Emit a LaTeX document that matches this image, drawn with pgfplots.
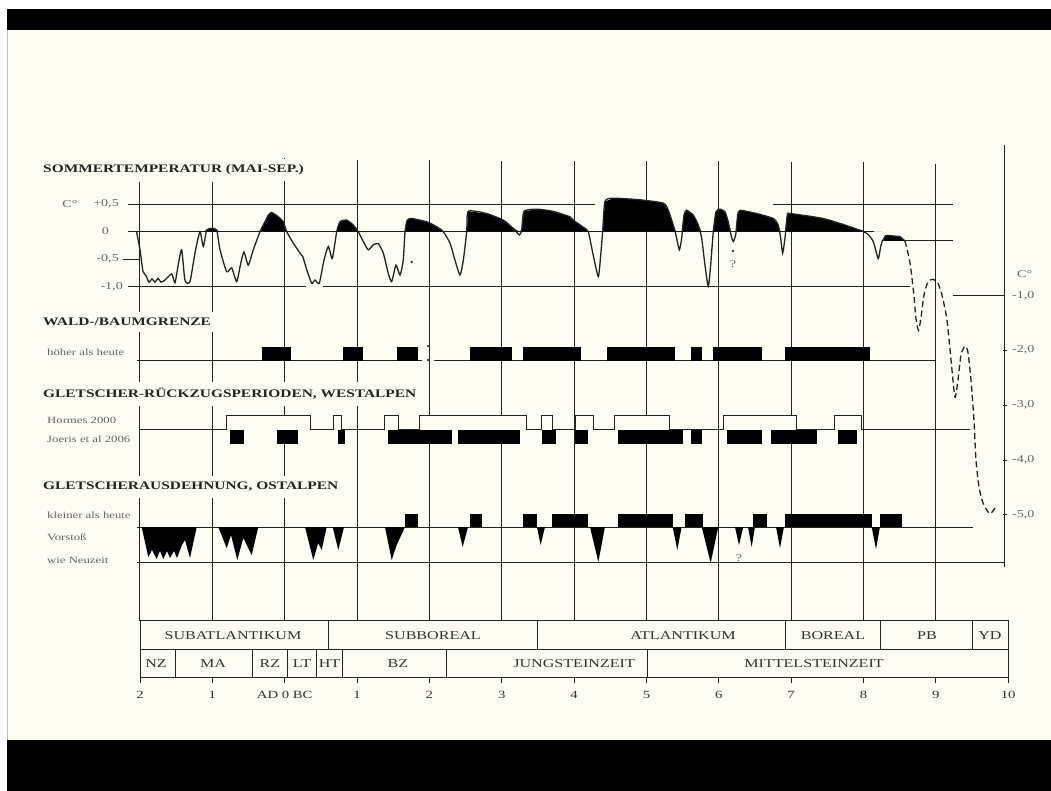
\documentclass[border=0pt]{standalone}
\usepackage{pgfplots}
\pgfplotsset{compat=1.18}
\usepackage{pgfplotstable}
\usepackage{graphicx}
\usepackage{fontspec}
\setmainfont{Liberation Serif}

\definecolor{paper}{RGB}{254,253,243}
\definecolor{ink}{RGB}{35,35,35}
\definecolor{lab}{RGB}{50,50,50}
\definecolor{side}{RGB}{100,100,100}
\newcommand{\sx}[1]{\scalebox{1.34}[1]{#1}}
\newcommand{\fs}[1]{\fontsize{#1}{#1}\selectfont}

% summer temperature, deviation from today (left scale), x in ka BC
\pgfplotstableread{
ka T
-2.048 0.00
-2.000 -0.33
-1.959 -0.72
-1.917 -0.80
-1.876 -0.92
-1.834 -0.86
-1.793 -0.92
-1.751 -0.85
-1.710 -0.92
-1.654 -0.88
-1.562 -0.77
-1.516 -0.93
-1.471 -0.60
-1.424 -0.33
-1.378 -0.89
-1.309 -0.91
-1.240 -0.39
-1.171 0.00
-1.125 -0.27
-1.078 0.03
-1.009 0.06
-0.940 0.03
-0.894 -0.33
-0.802 -0.73
-0.733 -0.66
-0.663 -0.91
-0.608 -0.58
-0.563 -0.37
-0.503 -0.61
-0.434 -0.33
-0.341 0.00
-0.296 0.12
-0.227 0.30
-0.180 0.35
-0.088 0.27
-0.019 0.18
0.028 0.00
0.119 -0.21
0.211 -0.39
0.249 -0.45
0.304 -0.69
0.373 -0.94
0.419 -0.88
0.478 -0.94
0.543 -0.52
0.603 -0.27
0.658 -0.49
0.719 0.00
0.764 0.18
0.857 0.21
0.948 0.12
1.017 0.00
1.086 -0.18
1.155 -0.33
1.225 -0.24
1.294 -0.22
1.363 -0.39
1.432 -0.76
1.479 -0.91
1.538 -0.61
1.594 -0.79
1.639 -0.52
1.663 0.00
1.694 0.21
1.755 0.24
1.963 0.18
2.101 0.09
2.192 0.00
2.285 -0.21
2.354 -0.52
2.423 -0.79
2.469 -0.52
2.516 0.00
2.538 0.37
2.792 0.33
3.021 0.21
3.160 0.06
3.243 -0.06
3.276 0.03
3.308 0.37
3.483 0.41
3.712 0.37
3.943 0.27
3.989 0.21
4.127 0.08
4.196 0.00
4.265 -0.43
4.335 -0.82
4.368 -0.43
4.395 0.00
4.427 0.55
4.542 0.61
4.911 0.58
5.233 0.52
5.302 0.39
5.371 0.12
5.408 -0.06
5.454 -0.33
5.487 -0.12
5.519 0.30
5.556 0.39
5.648 0.30
5.717 0.12
5.764 -0.12
5.809 -0.61
5.855 -1.00
5.888 -0.61
5.924 0.00
5.961 0.36
6.017 0.41
6.086 0.36
6.131 0.18
6.169 -0.06
6.200 -0.18
6.234 -0.06
6.261 0.30
6.293 0.39
6.524 0.33
6.753 0.24
6.822 0.12
6.856 -0.12
6.883 -0.39
6.915 -0.12
6.947 0.30
6.984 0.33
7.444 0.24
7.813 0.09
8.044 -0.03
8.135 -0.18
8.204 -0.49
8.238 -0.27
8.265 -0.15
}\templeft

% right scale
\pgfplotstableread{
ka T
8.265 0.00
8.300 0.09
8.321 0.10
8.504 0.08
8.573 0.00
}\tempfill

\pgfplotstableread{
ka T
8.573 0.00
8.642 -0.39
8.697 -0.99
8.725 -1.41
8.760 -1.63
8.794 -1.41
8.836 -0.99
8.891 -0.75
8.960 -0.70
9.029 -0.77
9.085 -0.99
9.154 -1.44
9.210 -2.17
9.264 -2.85
9.306 -2.54
9.348 -2.08
9.403 -1.92
9.444 -2.03
9.486 -2.54
9.527 -3.27
9.555 -4.00
9.597 -4.49
9.652 -4.78
9.748 -4.98
9.845 -4.82
}\lateglacial

\begin{document}
\begin{tikzpicture}
\path[use as bounding box] (0pt,0pt) rectangle (1051pt,791pt);
\fill[white] (0pt,0pt) rectangle (1051pt,791pt);
\fill[paper] (7pt,51pt) rectangle (1051pt,761pt);
\fill[black] (7pt,761pt) rectangle (1051pt,782pt);
\fill[black] (7pt,0pt) rectangle (1051pt,51pt);
\draw[black!25] (7pt,51pt) -- (7pt,761pt);

% panels: x in ka, y in rows from the top
\begin{axis}[at={(0pt,0pt)}, anchor=south west, scale only axis,
  width=1051pt, height=791pt, xmin=-3.935, xmax=10.592, ymin=0, ymax=791,
  y dir=reverse, hide axis, clip=false, unbounded coords=jump]
\addplot[ink, line width=1pt] coordinates {
(-2,182)(-2,621) (-2,nan) (-1,182)(-1,621) (-1,nan)
(0,158)(0,621) (0,nan) (1,160)(1,621) (1,nan) (2,160)(2,621) (2,nan)
(3,161)(3,621) (3,nan) (4,161)(4,621) (4,nan) (5,161)(5,621) (5,nan)
(6,161)(6,621) (6,nan) (7,162)(7,621) (7,nan) (8,162)(8,621) (8,nan)
(9,164)(9,621) (9,nan) (9.956,145)(9.956,567)};
% baselines
\addplot[ink, line width=1pt] coordinates {
(-2.04,361)(1.90,361) (0,nan) (2.06,361)(9.0,361) (0,nan)
(-2.0,430)(9.47,430) (0,nan)
(-2.04,527)(9.51,527) (0,nan)
(-2.04,562)(9.956,562)};
\addplot[only marks, mark=*, mark size=0.9pt, ink] coordinates {(1.98,346)(1.98,360)(1.755,262)(6.196,251)};
% Wald-/Baumgrenze hoeher als heute
\addplot[black, line width=14pt] coordinates {
(-0.318,354)(0.083,354) (0,nan) (0.802,354)(1.086,354) (0,nan)
(1.556,354)(1.847,354) (0,nan) (2.561,354)(3.137,354) (0,nan)
(3.290,354)(4.091,354) (0,nan) (4.451,354)(5.395,354) (0,nan)
(5.612,354)(5.764,354) (0,nan) (5.924,354)(6.593,354) (0,nan)
(6.915,354)(8.090,354)};
% Hormes 2000
\addplot[ink, line width=1pt, fill=paper] coordinates {(-0.802,430)(-0.802,416)(0.350,416)(0.350,430)};
\addplot[ink, line width=1pt, fill=paper] coordinates {(0.672,430)(0.672,416)(0.788,416)(0.788,430)};
\addplot[ink, line width=1pt, fill=paper] coordinates {(1.386,430)(1.386,416)(1.570,416)(1.570,430)};
\addplot[ink, line width=1pt, fill=paper] coordinates {(1.870,430)(1.870,416)(3.345,416)(3.345,430)};
\addplot[ink, line width=1pt, fill=paper] coordinates {(3.552,430)(3.552,416)(3.704,416)(3.704,430)};
\addplot[ink, line width=1pt, fill=paper] coordinates {(4.026,430)(4.026,416)(4.265,416)(4.265,430)};
\addplot[ink, line width=1pt, fill=paper] coordinates {(4.565,430)(4.565,416)(5.325,416)(5.325,430)};
\addplot[ink, line width=1pt, fill=paper] coordinates {(6.062,430)(6.062,416)(7.077,416)(7.077,430)};
\addplot[ink, line width=1pt, fill=paper] coordinates {(7.606,430)(7.606,416)(7.975,416)(7.975,430)};
% Joeris et al 2006
\addplot[black, line width=14pt] coordinates {
(-0.756,437)(-0.563,437) (0,nan) (-0.111,437)(0.188,437) (0,nan)
(0.741,437)(0.833,437) (0,nan) (1.432,437)(2.308,437) (0,nan)
(2.399,437)(3.252,437) (0,nan) (3.552,437)(3.750,437) (0,nan)
(4.012,437)(4.196,437) (0,nan) (4.611,437)(5.509,437) (0,nan)
(5.616,437)(5.764,437) (0,nan) (6.109,437)(6.593,437) (0,nan)
(6.717,437)(7.353,437) (0,nan) (7.652,437)(7.906,437)};
% Ostalpen: kleiner als heute
\addplot[black, line width=13pt] coordinates {
(1.663,520.5)(1.847,520.5) (0,nan) (2.561,520.5)(2.723,520.5) (0,nan)
(3.290,520.5)(3.483,520.5) (0,nan) (3.690,520.5)(4.196,520.5) (0,nan)
(4.611,520.5)(5.371,520.5) (0,nan) (5.533,520.5)(5.786,520.5) (0,nan)
(6.477,520.5)(6.662,520.5) (0,nan) (6.915,520.5)(8.113,520.5) (0,nan)
(8.228,520.5)(8.528,520.5)};
% Ostalpen: Vorstoss
\addplot[fill=black, draw=none] coordinates {(-1.977,527)(-1.885,557)(-1.834,550)(-1.769,559)(-1.724,551)(-1.678,559)(-1.627,551)(-1.585,558)(-1.530,551)(-1.489,558)(-1.419,545)(-1.378,540)(-1.309,558)(-1.216,527)};
\addplot[fill=black, draw=none] coordinates {(-0.918,527)(-0.802,548)(-0.742,535)(-0.655,560)(-0.572,538)(-0.456,555)(-0.365,527)};
\addplot[fill=black, draw=none] coordinates {(0.281,527)(0.395,560)(0.464,543)(0.511,550)(0.581,527)};
\addplot[fill=black, draw=none] coordinates {(0.663,527)(0.741,550)(0.820,527)};
\addplot[fill=black, draw=none] coordinates {(1.386,527)(1.479,560)(1.548,545)(1.663,527)};
\addplot[fill=black, draw=none] coordinates {(2.395,527)(2.460,547)(2.534,527)};
\addplot[fill=black, draw=none] coordinates {(3.487,527)(3.538,545)(3.598,527)};
\addplot[fill=black, draw=none] coordinates {(4.220,527)(4.335,562)(4.427,527)};
\addplot[fill=black, draw=none] coordinates {(5.363,527)(5.426,550)(5.487,527)};
\addplot[fill=black, draw=none] coordinates {(5.764,527)(5.888,563)(5.993,527)};
\addplot[fill=black, draw=none] coordinates {(6.224,527)(6.279,545)(6.339,527)};
\addplot[fill=black, draw=none] coordinates {(6.404,527)(6.455,547)(6.500,527)};
\addplot[fill=black, draw=none] coordinates {(6.791,527)(6.846,548)(6.901,527)};
\addplot[fill=black, draw=none] coordinates {(8.113,527)(8.173,549)(8.228,527)};
\end{axis}

% temperature, left scale
\begin{axis}[at={(0pt,0pt)}, anchor=south west, scale only axis,
  width=1051pt, height=791pt, xmin=-3.935, xmax=10.592, ymin=-10.188, ymax=4.220,
  hide axis, clip=false, unbounded coords=jump]
\addplot[ink, line width=1pt] coordinates {
(-2.166,0.5)(4.29,0.5) (0,nan) (6.75,0.5)(9.24,0.5) (0,nan)
(-2.166,0)(8.14,0) (0,nan)
(-2.166,-1)(0.30,-1) (0,nan) (0.53,-1)(8.65,-1) (0,nan)
(-2.235,-0.5)(-2.0,-0.5)};
\addplot[fill=black, draw=none] table[x=ka, y expr={max(\thisrow{T},0)}] {\templeft} \closedcycle;
\addplot[ink, line width=1.3pt, smooth, tension=0.35] table[x=ka, y=T] {\templeft};
\end{axis}

% temperature, right scale (Spaetglazial)
\begin{axis}[at={(0pt,0pt)}, anchor=south west, scale only axis,
  width=1051pt, height=791pt, xmin=-3.935, xmax=10.592, ymin=-10.038, ymax=4.396,
  hide axis, clip=false, unbounded coords=jump]
\addplot[ink, line width=1pt] coordinates {
(8.26,0)(9.237,0) (0,nan) (9.237,-1)(9.956,-1) (0,nan)
(9.93,-2)(9.99,-2) (0,nan) (9.93,-3)(9.99,-3) (0,nan)
(9.93,-4)(9.99,-4) (0,nan) (9.93,-5)(9.99,-5)};
\addplot[fill=black, draw=none] table[x=ka, y=T] {\tempfill} \closedcycle;
\addplot[ink, line width=1.3pt] table[x=ka, y=T] {\tempfill};
\addplot[ink, line width=1.3pt, smooth, tension=0.4, dash pattern=on 6pt off 3.5pt] table[x=ka, y=T] {\lateglacial};
\end{axis}

% time scale and periods
\begin{axis}[at={(140pt,113pt)}, anchor=south west, scale only axis,
  width=868.2pt, height=57pt, xmin=-2, xmax=10, ymin=0, ymax=57,
  clip=false, axis line style={ink, line width=1pt},
  xtick={-2,...,10},
  xticklabels={\sx{2},\sx{1},\sx{AD 0 BC},\sx{1},\sx{2},\sx{3},\sx{4},\sx{5},\sx{6},\sx{7},\sx{8},\sx{9},\sx{10}},
  xtick pos=bottom, tick align=outside, major tick length=5pt,
  tick style={ink, line width=1pt}, ytick=\empty,
  xticklabel style={font=\fs{11}, text=lab, yshift=-5pt},
  unbounded coords=jump]
\addplot[ink, line width=1pt] coordinates {
(-2,28)(10,28) (0,nan)
(0.60,28)(0.60,57) (0,nan) (3.50,28)(3.50,57) (0,nan) (6.915,28)(6.915,57) (0,nan)
(8.23,28)(8.23,57) (0,nan) (9.51,28)(9.51,57) (0,nan)
(-1.516,0)(-1.516,28) (0,nan) (-0.452,0)(-0.452,28) (0,nan) (0.032,0)(0.032,28) (0,nan)
(0.446,0)(0.446,28) (0,nan) (0.792,0)(0.792,28) (0,nan) (2.243,0)(2.243,28) (0,nan)
(5.021,0)(5.021,28)};
\begin{scope}[every node/.style={text=lab, font=\fs{12}}]
\node at (axis cs:-0.715,42.5) {\sx{SUBATLANTIKUM}};
\node at (axis cs:2.050,42.5) {\sx{SUBBOREAL}};
\node at (axis cs:5.505,42.5) {\sx{ATLANTIKUM}};
\node at (axis cs:7.578,42.5) {\sx{BOREAL}};
\node at (axis cs:8.878,42.5) {\sx{PB}};
\node at (axis cs:9.748,42.5) {\sx{YD}};
\node at (axis cs:-1.779,14) {\sx{NZ}};
\node at (axis cs:-0.991,14) {\sx{MA}};
\node at (axis cs:-0.203,14) {\sx{RZ}};
\node at (axis cs:0.239,14) {\sx{LT}};
\node at (axis cs:0.619,14) {\sx{HT}};
\node at (axis cs:1.566,14) {\sx{BZ}};
\node at (axis cs:4.000,14) {\sx{JUNGSTEINZEIT}};
\node at (axis cs:7.316,14) {\sx{MITTELSTEINZEIT}};
\end{scope}
\end{axis}

% section titles (they also break the grid lines)
\begin{scope}[every node/.style={anchor=west, fill=paper, inner xsep=2pt, inner ysep=6pt, text=ink, font=\bfseries\fs{11.5}}]
\node at (41pt,621pt) {\sx{SOMMERTEMPERATUR (MAI-SEP.)}};
\node at (41pt,469pt) {\sx{WALD-/BAUMGRENZE}};
\node at (41pt,397pt) {\sx{GLETSCHER-RÜCKZUGSPERIODEN, WESTALPEN}};
\node at (41pt,304pt) {\sx{GLETSCHERAUSDEHNUNG, OSTALPEN}};
\end{scope}
\begin{scope}[every node/.style={anchor=west, inner sep=0pt, text=side, font=\fs{9.5}}]
\node at (47pt,439pt) {\sx{höher als heute}};
\node at (47pt,371pt) {\sx{Hormes 2000}};
\node at (47pt,352pt) {\sx{Joeris et al 2006}};
\node at (47pt,276pt) {\sx{kleiner als heute}};
\node at (47pt,254pt) {\sx{Vorstoß}};
\node at (47pt,231pt) {\sx{wie Neuzeit}};
\end{scope}
\begin{scope}[every node/.style={inner sep=0pt, text=side, font=\fs{10.5}}]
\node at (70pt,587pt) {\sx{C°}};
\node[anchor=east] at (119pt,587pt) {\sx{+0,5}};
\node[anchor=east] at (109pt,560pt) {\sx{0}};
\node[anchor=east] at (119pt,532pt) {\sx{-0,5}};
\node[anchor=east] at (123pt,504pt) {\sx{-1,0}};
\node[anchor=west] at (1017pt,517pt) {\sx{C°}};
\node[anchor=west] at (1012pt,495pt) {\sx{-1,0}};
\node[anchor=west] at (1012pt,441pt) {\sx{-2,0}};
\node[anchor=west] at (1012pt,386pt) {\sx{-3,0}};
\node[anchor=west] at (1012pt,331pt) {\sx{-4,0}};
\node[anchor=west] at (1012pt,276pt) {\sx{-5,0}};
\node at (733pt,527pt) {\sx{?}};
\node at (739pt,233pt) {\sx{?}};
\end{scope}
\end{tikzpicture}
\end{document}
